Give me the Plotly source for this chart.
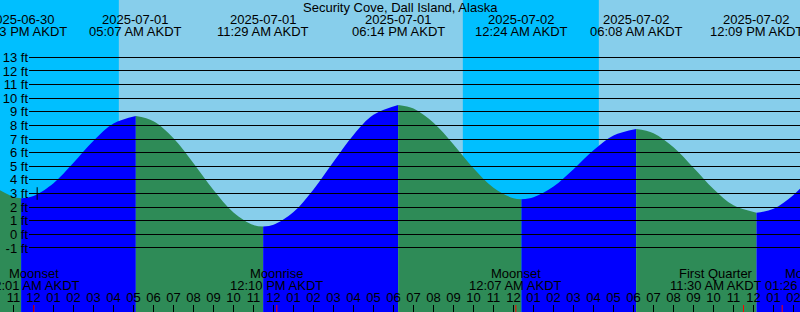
import plotly.graph_objects as go
import pandas as pd

TITLE = "Security Cove, Dall Island, Alaska"
TZ = "AKDT"

# visible time window (local time)
range_start = "2025-06-30 22:19:30"
range_end = "2025-07-02 14:19:30"

# tide extremes (local time) and heights (ft)
extreme_times = ["2025-06-30 23:23", "2025-07-01 05:07", "2025-07-01 11:29", "2025-07-01 18:14",
                 "2025-07-02 00:24", "2025-07-02 06:08", "2025-07-02 12:09"]
extreme_heights = [2.65, 8.69, 0.57, 9.50, 2.58, 7.74, 1.59]

# hourly heights (ft), starting at hourly_start; None = hour too close to an extreme
hourly_start = "2025-06-30 22:00"
hourly_heights = [3.50, 2.75, 2.82, 3.76, 5.26, 6.88, 8.14, None, 8.31, 7.06, 5.23, 3.26, 1.61, 0.68,
                  0.70, 1.64, 3.30, 5.33, 7.30, 8.78, None, 9.24, 8.19, 6.60, 4.86, 3.42, 2.65, 2.72,
                  3.51, 4.78, 6.17, 7.26, None, 7.43, 6.39, 4.89, 3.33, 2.13, None, 1.88, 2.90, 4.41]

# night intervals (sunset -> sunrise)
night_starts = [range_start, "2025-07-01 21:28"]
night_ends = ["2025-07-01 04:16", "2025-07-02 04:16"]

# moon events
moon_names = ["Moonset", "Moonrise", "Moonset", "First Quarter", "Moonrise"]
moon_times = ["2025-07-01 00:01", "2025-07-01 12:10", "2025-07-02 00:07", "2025-07-02 11:30", "2025-07-02 13:26"]
moon_label_shift = [0, 0, 0, -28, 29]

# small mark on the curve
mark_time = "2025-07-01 00:11"
mark_level = 3.0

grid_levels = list(range(-1, 14))
grid_labels = [f"{v} ft" for v in grid_levels]
y_range = [-5.70, 17.21]

DAY = "#87CEEB"
NIGHT = "#00BFFF"
FLOOD = "#0000FF"
EBB = "#2E8B57"
FONT = "Liberation Sans"
FS = 13

fig = go.Figure()

ext_t = pd.to_datetime(extreme_times)
hr_t = pd.date_range(hourly_start, periods=len(hourly_heights), freq="h")
pts = [(t, h, False) for t, h in zip(hr_t, hourly_heights) if h is not None]
pts += [(t, h, True) for t, h in zip(ext_t, extreme_heights)]
pts.sort(key=lambda p: p[0])
ext_pos = [i for i, p in enumerate(pts) if p[2]]
bounds = [0] + ext_pos + [len(pts) - 1]
base = y_range[0] - 3
for a, b in zip(bounds[:-1], bounds[1:]):
    if b <= a:
        continue
    seg = pts[a:b + 1]
    xs = [p[0] for p in seg]
    ys = [p[1] for p in seg]
    color = FLOOD if ys[-1] > ys[0] else EBB
    fig.add_trace(go.Scatter(x=[xs[0], xs[-1]], y=[base, base], mode="lines", line=dict(width=0),
                             hoverinfo="skip", showlegend=False))
    fig.add_trace(go.Scatter(x=xs, y=ys, mode="lines", line=dict(width=0, shape="spline", smoothing=1),
                             fill="tonexty", fillcolor=color, hoverinfo="skip", showlegend=False))

# mark
fig.add_trace(go.Scatter(x=[mark_time], y=[mark_level], mode="markers",
                         marker=dict(symbol="line-ns", size=9, line=dict(width=1, color="black")),
                         hoverinfo="skip", showlegend=False))

# grid subplot (drawn above the fills)
fig.add_trace(go.Scatter(x=[range_start, range_end], y=[None, None], xaxis="x2", yaxis="y2",
                         mode="lines", hoverinfo="skip", showlegend=False))

shapes = []
for s, e in zip(night_starts, night_ends):
    shapes.append(dict(type="rect", xref="x", yref="paper", x0=s, x1=e, y0=0, y1=1,
                       fillcolor=NIGHT, line=dict(width=0), layer="below"))
for t in moon_times:
    shapes.append(dict(type="line", xref="x", yref="paper", x0=t, x1=t, y0=0, y1=7 / 312,
                       line=dict(color="red", width=1), layer="above"))

fig.update_layout(
    width=800, height=312, margin=dict(l=0, r=0, t=0, b=0),
    paper_bgcolor=DAY, plot_bgcolor="rgba(0,0,0,0)", showlegend=False,
    font=dict(family=FONT, size=FS, color="black"),
    xaxis=dict(type="date", range=[range_start, range_end], domain=[0, 1], anchor="y",
               showgrid=False, zeroline=False, showline=False,
               ticks="inside", ticklen=7, tickwidth=1, tickcolor="black",
               tickformat="%I", dtick=3600000, tick0="2025-07-01 00:00",
               ticklabelposition="inside", ticklabeloverflow="allow",
               tickfont=dict(family=FONT, size=FS, color="black"), fixedrange=True),
    yaxis=dict(range=y_range, domain=[0, 1], visible=False, fixedrange=True),
    xaxis2=dict(type="date", range=[range_start, range_end], domain=[29 / 800, 1], anchor="y2",
                visible=False, fixedrange=True),
    yaxis2=dict(range=y_range, domain=[0, 1], anchor="x2", showgrid=True, gridcolor="black", gridwidth=1,
                zeroline=False, showline=False, ticks="", tickvals=grid_levels, ticktext=grid_labels,
                tickfont=dict(family=FONT, size=FS, color="black"), fixedrange=True),
    shapes=shapes,
)

fig.add_annotation(x=0.5, xref="paper", y=1 - 7.5 / 312, yref="paper", text=TITLE, showarrow=False,
                   xanchor="center", yanchor="middle", font=dict(family=FONT, size=FS, color="black"))
for t in ext_t:
    fig.add_annotation(x=t, xref="x", y=1 - 19.5 / 312, yref="paper", text=t.strftime("%Y-%m-%d"),
                       showarrow=False, xanchor="center", yanchor="middle",
                       font=dict(family=FONT, size=FS, color="black"))
    fig.add_annotation(x=t, xref="x", y=1 - 32 / 312, yref="paper", text=t.strftime("%I:%M %p ") + TZ,
                       showarrow=False, xanchor="center", yanchor="middle",
                       font=dict(family=FONT, size=FS, color="black"))
for name, t, sh in zip(moon_names, pd.to_datetime(moon_times), moon_label_shift):
    fig.add_annotation(x=t, xref="x", y=1 - 273.5 / 312, yref="paper", text=name, xshift=sh,
                       showarrow=False, xanchor="center", yanchor="middle",
                       font=dict(family=FONT, size=FS, color="black"))
    fig.add_annotation(x=t, xref="x", y=1 - 285 / 312, yref="paper", text=t.strftime("%I:%M %p ") + TZ,
                       xshift=sh, showarrow=False, xanchor="center", yanchor="middle",
                       font=dict(family=FONT, size=FS, color="black"))

fig.write_html("out.html")
